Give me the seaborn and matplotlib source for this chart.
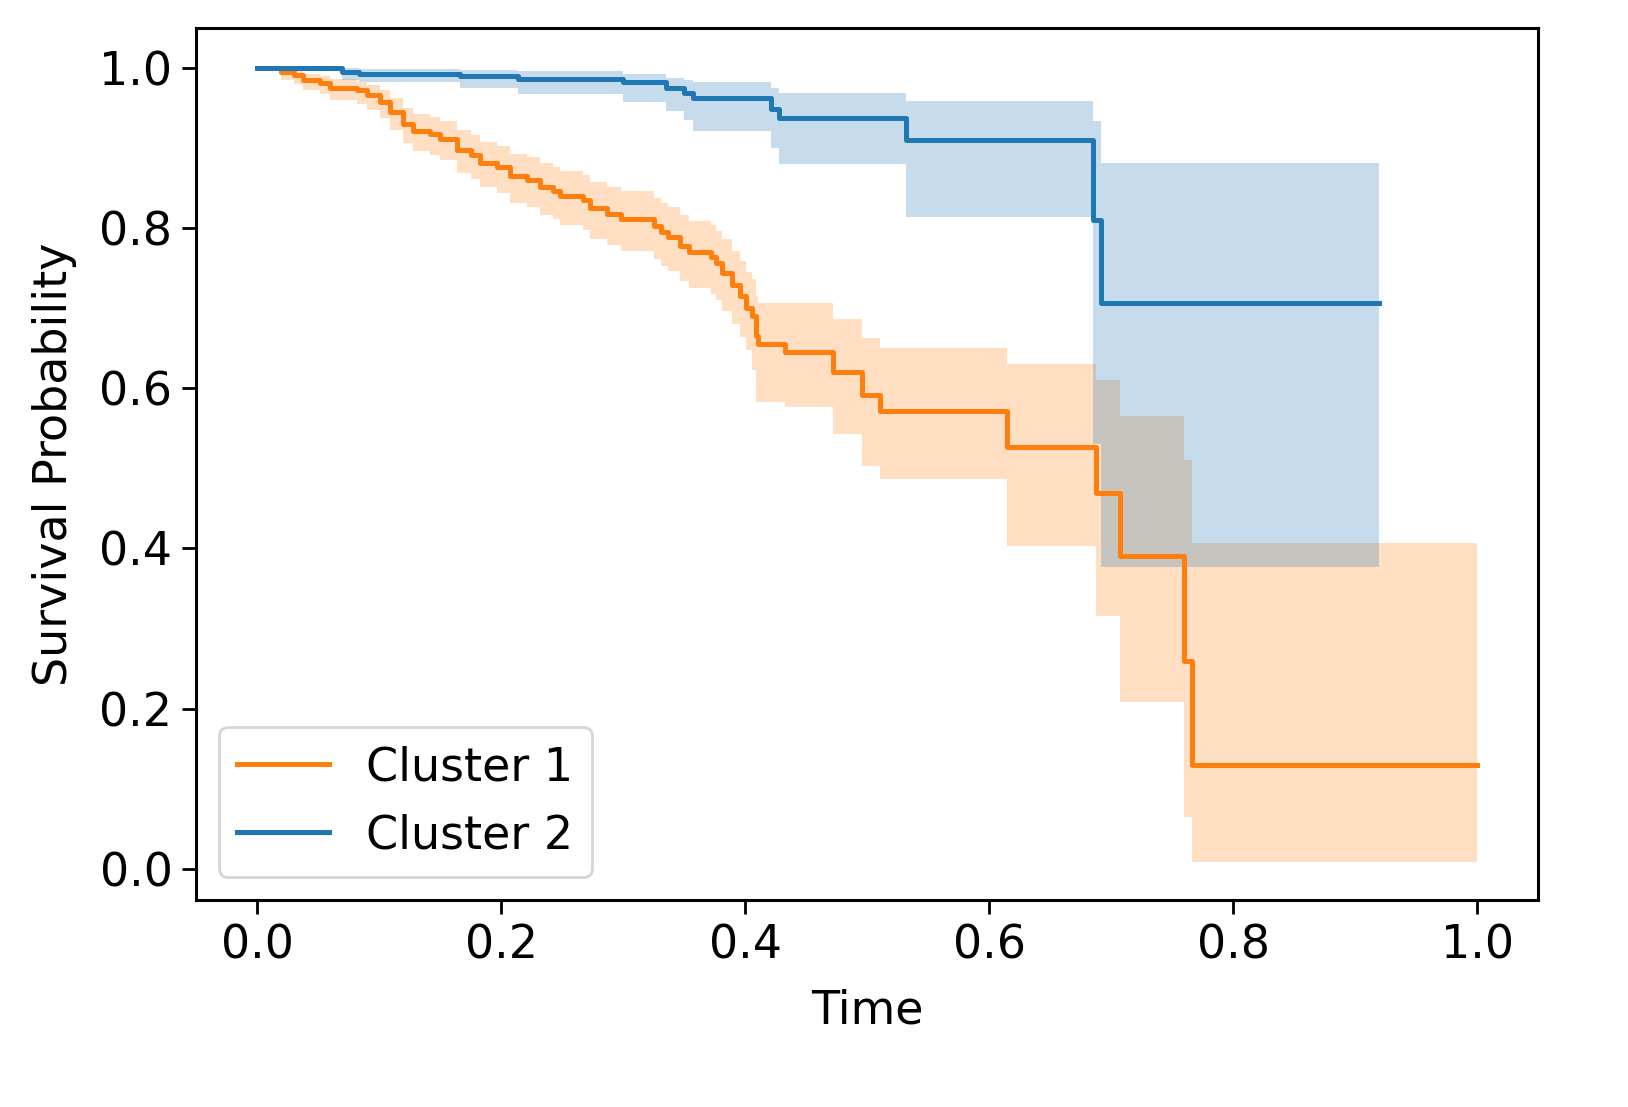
import numpy as np
import pandas as pd
import matplotlib
matplotlib.use("Agg")
import matplotlib.pyplot as plt
import seaborn as sns

# Cluster 1 (orange) Kaplan-Meier steps
c1_time = [0.000, 0.020, 0.030, 0.038, 0.052, 0.060, 0.082, 0.090, 0.101, 0.109,
           0.120, 0.128, 0.142, 0.150, 0.164, 0.175, 0.183, 0.197, 0.207, 0.221,
           0.232, 0.243, 0.248, 0.267, 0.273, 0.287, 0.298, 0.325, 0.331, 0.337,
           0.347, 0.354, 0.372, 0.376, 0.381, 0.389, 0.396, 0.401, 0.406, 0.409,
           0.411, 0.433, 0.472, 0.496, 0.511, 0.615, 0.688, 0.707, 0.760, 0.766,
           1.000]
c1_surv = [1.000, 0.995, 0.991, 0.985, 0.981, 0.975, 0.972, 0.966, 0.958, 0.945,
           0.930, 0.921, 0.918, 0.912, 0.898, 0.891, 0.882, 0.876, 0.865, 0.860,
           0.851, 0.847, 0.840, 0.835, 0.825, 0.818, 0.812, 0.803, 0.795, 0.789,
           0.778, 0.770, 0.764, 0.757, 0.744, 0.729, 0.715, 0.700, 0.690, 0.665,
           0.655, 0.645, 0.620, 0.592, 0.572, 0.527, 0.469, 0.390, 0.260, 0.130,
           0.130]
c1_lower = [1.000, 0.985, 0.980, 0.972, 0.967, 0.960, 0.955, 0.948, 0.938, 0.923,
            0.906, 0.896, 0.892, 0.885, 0.869, 0.861, 0.851, 0.844, 0.832, 0.826,
            0.816, 0.811, 0.804, 0.798, 0.787, 0.779, 0.772, 0.762, 0.753, 0.746,
            0.734, 0.725, 0.718, 0.710, 0.696, 0.680, 0.664, 0.648, 0.623, 0.583,
            0.583, 0.577, 0.543, 0.503, 0.487, 0.403, 0.316, 0.208, 0.065, 0.008,
            0.008]
c1_upper = [1.000, 0.999, 0.997, 0.993, 0.990, 0.986, 0.983, 0.979, 0.972, 0.962,
            0.950, 0.942, 0.939, 0.934, 0.922, 0.916, 0.908, 0.903, 0.893, 0.889,
            0.881, 0.877, 0.871, 0.867, 0.858, 0.852, 0.846, 0.838, 0.831, 0.826,
            0.816, 0.809, 0.804, 0.797, 0.786, 0.772, 0.759, 0.745, 0.736, 0.715,
            0.707, 0.707, 0.687, 0.663, 0.650, 0.631, 0.610, 0.566, 0.511, 0.407,
            0.407]

# Cluster 2 (blue)
c2_time = [0.000, 0.070, 0.084, 0.166, 0.214, 0.300, 0.335, 0.350, 0.357, 0.421,
           0.428, 0.532, 0.685, 0.692, 0.920]
c2_surv = [1.000, 0.995, 0.993, 0.990, 0.986, 0.982, 0.975, 0.969, 0.962, 0.949,
           0.938, 0.910, 0.810, 0.706, 0.706]
c2_lower = [1.000, 0.985, 0.982, 0.975, 0.967, 0.958, 0.946, 0.935, 0.921, 0.900,
            0.880, 0.814, 0.530, 0.377, 0.377]
c2_upper = [1.000, 1.000, 0.999, 0.998, 0.996, 0.993, 0.988, 0.985, 0.982, 0.975,
            0.969, 0.959, 0.934, 0.882, 0.882]

W, H, DPI = 1628, 1107, 200
fig = plt.figure(figsize=(W / DPI, H / DPI), dpi=DPI)
ax = fig.add_axes([196 / W, 1 - 900 / H, (1538 - 196) / W, (900 - 28) / H])

fs = 46 * 72 / DPI
orange = "#ff7f0e"
blue = "#1f77b4"

#Confidence bands
ax.fill_between(c1_time, c1_lower, c1_upper, step="post", color=orange, alpha=0.25, lw=0)
ax.fill_between(c2_time, c2_lower, c2_upper, step="post", color=blue, alpha=0.25, lw=0)

#Survival curves
df1 = pd.DataFrame({"Time": c1_time, "Survival": c1_surv})
df2 = pd.DataFrame({"Time": c2_time, "Survival": c2_surv})
sns.lineplot(data=df1, x="Time", y="Survival", ax=ax, color=orange, lw=1.8,
             drawstyle="steps-post", estimator=None, sort=False, label="Cluster 1")
sns.lineplot(data=df2, x="Time", y="Survival", ax=ax, color=blue, lw=1.8,
             drawstyle="steps-post", estimator=None, sort=False, label="Cluster 2")

ax.set_xlim(-0.05, 1.05)
ax.set_ylim(-0.039, 1.05)
ax.set_xticks(np.arange(0, 1.01, 0.2))
ax.set_yticks(np.arange(0, 1.01, 0.2))
ax.tick_params(labelsize=fs, length=5, width=1)
for s in ax.spines.values():
    s.set_linewidth(1.1)
ax.set_xlabel("Time", fontsize=fs, labelpad=7)
ax.set_ylabel("Survival Probability", fontsize=fs, labelpad=8)
ax.legend(loc="lower left", fontsize=fs)

fig.savefig("out.png", dpi=DPI)
